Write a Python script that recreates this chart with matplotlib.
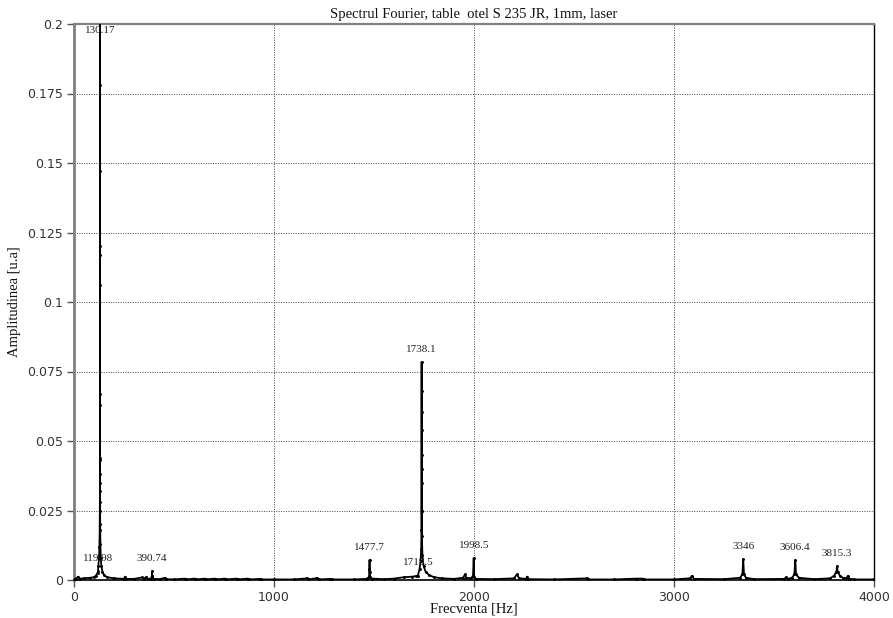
import matplotlib
matplotlib.use("Agg")
import matplotlib.pyplot as plt
from matplotlib.ticker import FuncFormatter

# Amplitude spectrum samples: frequency [Hz] and amplitude [u.a]
freqs = [
    0, 10, 20, 30, 50, 80, 100, 110, 118, 119.98, 122, 125, 127, 128.5, 129.3,
    129.7, 129.9, 130.0, 130.05, 130.08, 130.11, 130.13, 130.15, 130.16, 130.17,
    130.19, 130.22, 130.3, 130.5, 131, 132, 134, 137, 142, 150, 165, 200,
    250, 255, 262, 300, 340, 350, 362, 370, 385, 390, 390.74, 392, 398, 430,
    455, 462, 500, 555, 560, 605, 610, 655, 660, 705, 710, 755, 760, 815, 820,
    870, 875, 930, 935, 1000, 1100, 1165, 1175, 1215, 1225, 1280, 1290, 1400,
    1460, 1472, 1476, 1477.3, 1477.7, 1478.1, 1480, 1490, 1550,
    1600, 1650, 1690, 1710, 1719.5, 1728, 1733, 1736, 1737.2, 1737.6, 1737.8,
    1737.9, 1738.0, 1738.05, 1738.08, 1738.1, 1738.2, 1738.5, 1739.5, 1742,
    1748, 1758, 1775, 1800, 1840, 1900, 1945, 1955, 1962, 1985, 1995, 1998.5,
    2001, 2010, 2100, 2200, 2215, 2225, 2260, 2265, 2270, 2400, 2565, 2570,
    2700, 2810, 2845, 2850, 3000, 3080, 3090, 3100, 3250, 3330, 3342, 3346,
    3350, 3360, 3400, 3550, 3560, 3570, 3590, 3602, 3606.4, 3610, 3625, 3700,
    3780, 3800, 3812, 3815.3, 3818, 3830, 3845, 3860, 3870, 3875, 3900, 4000,
]
amps = [
    0.0004, 0.0005, 0.0012, 0.0005, 0.0006, 0.0008, 0.0010, 0.0016, 0.0026, 0.0032, 0.0050, 0.0080, 0.012, 0.018, 0.025,
    0.032, 0.038, 0.044, 0.063, 0.067, 0.106, 0.117, 0.147, 0.178, 0.260,
    0.120, 0.043, 0.035, 0.028, 0.020, 0.013, 0.008, 0.005, 0.003, 0.0018, 0.0010, 0.0006,
    0.0004, 0.0012, 0.0004, 0.0004, 0.0009, 0.0005, 0.0011, 0.0004, 0.0005, 0.0015, 0.0032, 0.0012, 0.0004, 0.0003,
    0.0008, 0.0003, 0.0002, 0.0005, 0.0002, 0.0005, 0.0002, 0.0005, 0.0002, 0.0005, 0.0002, 0.0005, 0.0002, 0.0005, 0.0002,
    0.0005, 0.0002, 0.0004, 0.0002, 0.0002, 0.0002, 0.0006, 0.0002, 0.0007, 0.0002, 0.0004, 0.0002, 0.0002,
    0.0004, 0.0008, 0.0015, 0.0040, 0.0072, 0.0030, 0.0012, 0.0005, 0.0003,
    0.0005, 0.0010, 0.0012, 0.0014, 0.0016, 0.0040, 0.0070, 0.011, 0.018, 0.025, 0.035,
    0.045, 0.054, 0.0604, 0.068, 0.0784, 0.040, 0.025, 0.016, 0.009,
    0.005, 0.003, 0.0018, 0.0010, 0.0006, 0.0004, 0.0008, 0.0020, 0.0008, 0.0006, 0.0015, 0.0079,
    0.0012, 0.0004, 0.0003, 0.0006, 0.0020, 0.0006, 0.0004, 0.0012, 0.0003, 0.0002, 0.0006, 0.0002,
    0.0002, 0.0005, 0.0005, 0.0002, 0.0002, 0.0006, 0.0015, 0.0004, 0.0003, 0.0008, 0.0020, 0.0075,
    0.0020, 0.0008, 0.0003, 0.0004, 0.0009, 0.0004, 0.0008, 0.0020, 0.0072, 0.0020, 0.0008, 0.0003,
    0.0006, 0.0015, 0.0030, 0.0050, 0.0030, 0.0015, 0.0008, 0.0006, 0.0015, 0.0005, 0.0002, 0.0002,
]

# Peak annotations: label text, frequency and the amplitude it sits above
peak_labels = ["130.17", "119.98", "390.74", "1477.7", "1719.5", "1738.1",
               "1998.5", "3346", "3606.4", "3815.3"]
peak_freqs = [130.17, 119.98, 390.74, 1477.7, 1719.5, 1738.1,
              1998.5, 3346, 3606.4, 3815.3]
peak_amps = [0.2, 0.0032, 0.0032, 0.0072, 0.0016, 0.0784,
             0.0079, 0.0075, 0.0072, 0.0050]

x_ticks = [0, 1000, 2000, 3000, 4000]
y_ticks = [0, 0.025, 0.05, 0.075, 0.1, 0.125, 0.15, 0.175, 0.2]

serif = ["Liberation Serif", "DejaVu Serif"]

fig = plt.figure(figsize=(8.93, 6.18), dpi=100)
ax = fig.add_axes([74 / 893, 38 / 618, 800 / 893, 556 / 618])

ax.plot(freqs, amps, color="black", linewidth=1.3, marker=".",
        markersize=2.2, zorder=3, clip_on=True)

for text, f, a in zip(peak_labels, peak_freqs, peak_amps):
    if a >= 0.2:
        ax.annotate(text, (f, a), xytext=(0, -1.5), textcoords="offset points",
                    ha="center", va="top", fontsize=8, family=serif,
                    color="#222222", zorder=4)
    else:
        ax.annotate(text, (f, a), xytext=(0, 6), textcoords="offset points",
                    ha="center", va="bottom", fontsize=8, family=serif,
                    color="#222222", zorder=4)

ax.set_xlim(0, 4000)
ax.set_ylim(0, 0.2)
ax.set_xticks(x_ticks)
ax.set_yticks(y_ticks)
ax.yaxis.set_major_formatter(FuncFormatter(lambda v, p: "%g" % v))
ax.xaxis.set_major_formatter(FuncFormatter(lambda v, p: "%g" % v))

ax.grid(True, color="#444444", linestyle=(0, (1, 1.5)), linewidth=0.7)
ax.set_axisbelow(True)

ax.tick_params(axis="both", direction="out", length=5, width=1,
               colors="#555555", labelcolor="#333333", labelsize=9, pad=3)

ax.spines["left"].set_color("#808080")
ax.spines["left"].set_linewidth(2)
ax.spines["top"].set_color("#808080")
ax.spines["top"].set_linewidth(1.6)
ax.spines["right"].set_color("black")
ax.spines["right"].set_linewidth(1)
ax.spines["bottom"].set_color("black")
ax.spines["bottom"].set_linewidth(1.2)

ax.set_title("Spectrul Fourier, table  otel S 235 JR, 1mm, laser",
             family=serif, fontsize=10.5, pad=4, color="#111111")
ax.set_xlabel("Frecventa [Hz]", family=serif, fontsize=10.5, labelpad=-1,
              color="#111111")
ax.set_ylabel("Amplitudinea [u.a]", family=serif, fontsize=10.5, labelpad=4,
              color="#111111")

fig.savefig("out.png", dpi=100)
